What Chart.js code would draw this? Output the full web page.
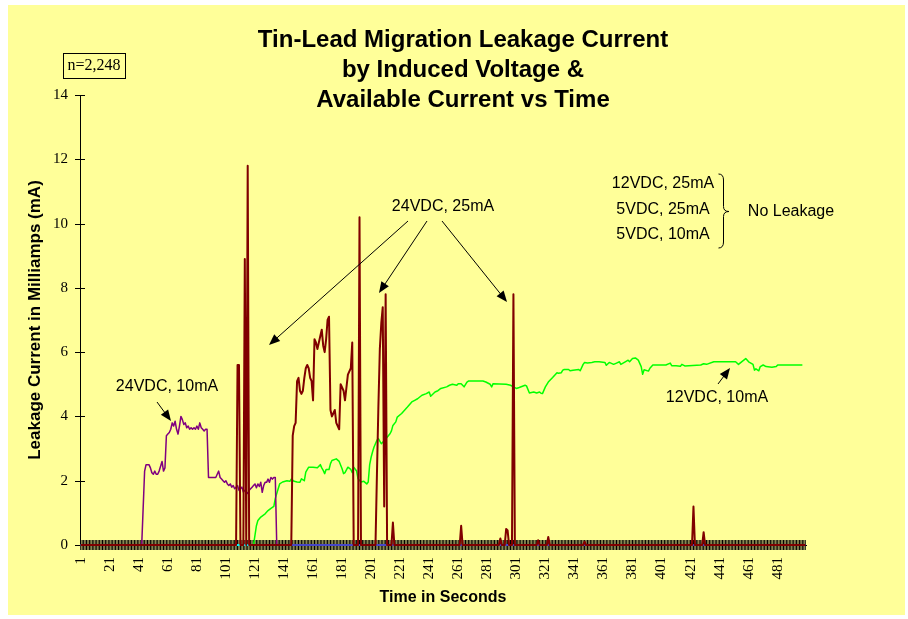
<!DOCTYPE html>
<html>
<head>
<meta charset="utf-8">
<script src="https://cdn.jsdelivr.net/npm/chart.js@4.4.1/dist/chart.umd.min.js"></script>
<style>
  body { margin: 0; background: #fff; }
  #wrap { position: relative; width: 908px; height: 619px; }
  #paper { position: absolute; left: 8px; top: 5px; width: 897px; height: 610px; background: #ffff99; }
  #chart { position: absolute; left: 0; top: 0; }
</style>
</head>
<body>
<div id="wrap">
  <div id="paper"></div>
  <canvas id="chart" width="908" height="619"></canvas>
</div>
<script>
// time (s) and leakage current (mA)
const redTimes = [1, 108, 109, 110, 111, 113, 114, 115, 116, 117, 146, 147, 148, 149, 150, 151, 152, 153, 154, 155, 156, 157, 158, 159, 160, 161, 162, 163, 164, 165, 166, 167, 168, 169, 170, 171, 172, 173, 174, 175, 176, 177, 178, 179, 180, 181, 182, 183, 184, 185, 186, 187, 188, 189, 192, 193, 194, 204, 205, 206, 207, 208, 209, 210, 211, 212, 215, 216, 217, 262, 263, 264, 289, 290, 291, 293, 294, 295, 296, 298, 299, 300, 315, 316, 317, 322, 323, 324, 347, 348, 349, 422, 423, 424, 429, 430, 431, 500];
const redValues = [0, 0, 5.6, 5.6, 0, 0, 8.9, 0, 11.8, 0, 0, 3.4, 3.7, 3.8, 5.1, 5.2, 4.8, 4.7, 4.8, 5.2, 5.5, 5.6, 5.5, 5.2, 5.1, 4.5, 6.4, 6.3, 6.1, 6.3, 6.5, 6.7, 6.2, 6.0, 6.4, 7.0, 7.1, 4.2, 4.0, 4.1, 4.2, 3.8, 3.7, 3.6, 5.0, 4.9, 4.8, 4.5, 4.9, 5.3, 5.4, 5.5, 6.3, 0, 0, 10.2, 0, 0, 2.2, 4.3, 6.1, 6.9, 7.4, 1.2, 7.8, 0, 0, 0.7, 0, 0, 0.6, 0, 0, 0.2, 0, 0, 0.5, 0.45, 0, 0, 7.8, 0, 0, 0.15, 0, 0, 0.25, 0, 0, 0.1, 0, 0, 1.2, 0, 0, 0.4, 0, 0];

const purpleTimes = [1, 43, 45, 46, 47, 48, 49, 50, 51, 52, 53, 54, 55, 56, 57, 58, 59, 60, 61, 62, 63, 64, 65, 66, 67, 68, 69, 70, 71, 72, 73, 74, 75, 76, 77, 78, 79, 80, 81, 82, 83, 84, 85, 86, 87, 88, 89, 90, 94, 95, 96, 97, 98, 99, 100, 101, 102, 103, 104, 105, 106, 107, 108, 109, 110, 111, 112, 113, 114, 115, 116, 117, 118, 119, 120, 121, 122, 123, 124, 125, 126, 127, 128, 129, 130, 131, 132, 133, 134, 135, 136];
const purpleValues = [0, 0, 2.3, 2.5, 2.5, 2.5, 2.4, 2.25, 2.2, 2.3, 2.2, 2.2, 2.3, 2.45, 2.6, 2.3, 2.4, 3.4, 3.45, 3.5, 3.6, 3.8, 3.7, 3.85, 3.6, 3.45, 3.7, 4.0, 3.9, 3.75, 3.8, 3.65, 3.7, 3.6, 3.65, 3.6, 3.65, 3.6, 3.7, 3.6, 3.8, 3.65, 3.6, 3.55, 3.6, 3.6, 2.1, 2.1, 2.1, 2.2, 2.3, 2.1, 2.05, 2.0, 1.95, 2.0, 1.9, 1.85, 1.9, 1.8, 1.85, 1.75, 1.8, 1.85, 1.7, 1.75, 1.8, 1.65, 1.7, 1.65, 1.6, 1.7, 1.75, 1.8, 1.85, 1.9, 1.78, 1.9, 1.82, 1.95, 1.64, 1.85, 1.95, 1.95, 2.05, 1.95, 2.1, 2.05, 2.1, 2.1, 0];

const greenTimes = [120, 122, 123, 125, 128, 130, 132, 134, 135, 137, 138, 140, 143, 145, 146, 148, 150, 152, 153, 155, 156, 158, 161, 164, 166, 167, 168, 169, 170, 172, 173, 174, 177, 179, 181, 182, 183, 185, 187, 188, 189, 191, 192, 194, 196, 198, 199, 200, 201, 202, 203, 205, 206, 208, 209, 211, 214, 215, 216, 218, 219, 222, 224, 226, 229, 231, 233, 236, 239, 241, 242, 245, 247, 249, 253, 255, 257, 260, 261, 263, 265, 267, 268, 278, 280, 283, 284, 285, 294, 297, 299, 301, 303, 307, 308, 310, 313, 315, 317, 318, 319, 321, 323, 326, 329, 330, 332, 333, 334, 337, 338, 340, 344, 345, 347, 348, 350, 353, 355, 358, 362, 363, 365, 368, 370, 372, 373, 376, 378, 379, 381, 383, 385, 387, 388, 389, 392, 393, 395, 404, 407, 408, 411, 414, 415, 417, 428, 430, 432, 437, 452, 454, 457, 459, 461, 464, 465, 466, 468, 469, 471, 473, 477, 480, 481, 498];
const greenValues = [0, 0.6, 0.76, 0.87, 0.97, 1.07, 1.14, 1.2, 1.45, 1.75, 1.9, 1.96, 2.0, 1.98, 2.05, 1.98, 1.96, 1.95, 2.06, 2.0, 2.27, 2.42, 2.42, 2.4, 2.5, 2.4, 2.32, 2.22, 2.35, 2.35, 2.53, 2.63, 2.68, 2.6, 2.37, 2.22, 2.25, 2.42, 2.35, 2.25, 2.42, 2.3, 2.06, 1.96, 1.98, 1.9, 1.96, 2.5, 2.73, 2.9, 3.05, 3.26, 3.31, 3.15, 3.2, 3.3, 3.46, 3.55, 3.72, 3.83, 3.98, 4.09, 4.19, 4.29, 4.45, 4.5, 4.55, 4.66, 4.71, 4.76, 4.63, 4.76, 4.8, 4.87, 4.92, 4.97, 5.0, 4.97, 5.02, 5.02, 4.92, 5.07, 5.1, 5.1, 5.07, 5.0, 4.92, 5.02, 5.0, 4.97, 4.92, 4.87, 4.9, 4.97, 4.95, 4.73, 4.76, 4.73, 4.76, 4.72, 4.71, 4.92, 5.07, 5.21, 5.36, 5.34, 5.36, 5.44, 5.46, 5.46, 5.42, 5.44, 5.46, 5.42, 5.62, 5.68, 5.66, 5.68, 5.7, 5.7, 5.68, 5.59, 5.68, 5.62, 5.66, 5.7, 5.62, 5.7, 5.75, 5.7, 5.8, 5.82, 5.75, 5.55, 5.31, 5.45, 5.41, 5.5, 5.6, 5.6, 5.66, 5.58, 5.58, 5.56, 5.62, 5.57, 5.6, 5.64, 5.62, 5.7, 5.7, 5.62, 5.73, 5.8, 5.7, 5.62, 5.44, 5.48, 5.42, 5.55, 5.6, 5.55, 5.53, 5.55, 5.6, 5.6];

// the no-leakage runs sit on zero
const blueTimes = [1, 500];
const blueValues = [0, 0];
const cyanTimes = [1, 135];
const cyanValues = [0, 0];

const xTickLabels = [1, 21, 41, 61, 81, 101, 121, 141, 161, 181, 201, 221, 241, 261, 281, 301, 321, 341, 361, 381, 401, 421, 441, 461, 481];
const titleLines = ["Tin-Lead Migration Leakage Current", "by Induced Voltage &", "Available Current vs Time"];

function toPoints(times, values) {
  return times.map((t, i) => ({ x: t, y: values[i] }));
}

const sans = '"Liberation Sans", Arial, sans-serif';
const serif = '"Liberation Serif", "Times New Roman", serif';

// excel style tick marks that cross the axis line
const crossTicks = {
  id: "crossTicks",
  beforeDatasetsDraw(chart) {
    const { ctx, chartArea, scales } = chart;
    const x = scales.x, y = scales.y;
    ctx.save();
    ctx.strokeStyle = "#000";
    ctx.lineWidth = 1;
    ctx.beginPath();
    for (let t = 1; t <= 500; t++) {
      const px = x.getPixelForValue(t);
      ctx.moveTo(px, chartArea.bottom - 5);
      ctx.lineTo(px, chartArea.bottom + 5);
    }
    y.ticks.forEach((tk) => {
      const py = Math.round(y.getPixelForValue(tk.value)) + 0.5;
      ctx.moveTo(chartArea.left - 5, py);
      ctx.lineTo(chartArea.left + 5, py);
    });
    ctx.stroke();
    ctx.restore();
  },
};

function arrow(ctx, x1, y1, x2, y2) {
  const a = Math.atan2(y2 - y1, x2 - x1);
  const len = 11, w = 4.5;
  ctx.beginPath();
  ctx.moveTo(x1, y1);
  ctx.lineTo(x2 - Math.cos(a) * len * 0.8, y2 - Math.sin(a) * len * 0.8);
  ctx.stroke();
  ctx.beginPath();
  ctx.moveTo(x2, y2);
  ctx.lineTo(x2 - len * Math.cos(a) + w * Math.sin(a), y2 - len * Math.sin(a) - w * Math.cos(a));
  ctx.lineTo(x2 - len * Math.cos(a) - w * Math.sin(a), y2 - len * Math.sin(a) + w * Math.cos(a));
  ctx.closePath();
  ctx.fill();
}

const notes = {
  id: "notes",
  afterDraw(chart) {
    const ctx = chart.ctx;
    ctx.save();
    ctx.fillStyle = "#000";
    ctx.strokeStyle = "#000";
    ctx.lineWidth = 1;
    ctx.textAlign = "center";
    ctx.textBaseline = "middle";

    ctx.font = "bold 24px " + sans;
    titleLines.forEach((s, i) => ctx.fillText(s, 463, 40 + i * 30));

    ctx.font = "16px " + serif;
    ctx.fillText("n=2,248", 94, 66);
    ctx.strokeRect(63.5, 53.5, 62, 25);

    ctx.font = "16px " + sans;
    ctx.fillText("24VDC, 25mA", 443, 207);
    arrow(ctx, 408, 221, 269, 345);
    arrow(ctx, 427, 221, 379, 293);
    arrow(ctx, 442, 221, 507, 302);

    ctx.fillText("24VDC, 10mA", 167, 387);
    arrow(ctx, 157, 402, 171, 421);

    ctx.fillText("12VDC, 25mA", 663, 184);
    ctx.fillText("5VDC, 25mA", 663, 210);
    ctx.fillText("5VDC, 10mA", 663, 235);
    ctx.fillText("No Leakage", 791, 212);
    // brace
    const bx = 718.5, sx = 723.5, tx = 729, top = 174, mid = 211.5, bot = 248;
    ctx.beginPath();
    ctx.moveTo(bx, top);
    ctx.quadraticCurveTo(sx, top, sx, top + 6);
    ctx.lineTo(sx, mid - 5);
    ctx.quadraticCurveTo(sx, mid, tx, mid);
    ctx.quadraticCurveTo(sx, mid, sx, mid + 5);
    ctx.lineTo(sx, bot - 6);
    ctx.quadraticCurveTo(sx, bot, bx, bot);
    ctx.stroke();

    ctx.fillText("12VDC, 10mA", 717, 398);
    arrow(ctx, 718, 384, 730, 368);
    ctx.restore();
  },
};

new Chart(document.getElementById("chart"), {
  type: "line",
  data: {
    datasets: [
      { label: "24VDC, 25mA", data: toPoints(redTimes, redValues), borderColor: "#800000", borderWidth: 2 },
      { label: "24VDC, 10mA", data: toPoints(purpleTimes, purpleValues), borderColor: "#800080", borderWidth: 1.5 },
      { label: "12VDC, 10mA", data: toPoints(greenTimes, greenValues), borderColor: "#00ff00", borderWidth: 1.5 },
      { label: "5VDC, 25mA", data: toPoints(cyanTimes, cyanValues), borderColor: "#00ffff", borderWidth: 2 },
      { label: "12VDC, 25mA", data: toPoints(blueTimes, blueValues), borderColor: "#4646c8", borderWidth: 2 },
    ],
  },
  options: {
    responsive: false,
    animation: false,
    devicePixelRatio: 1,
    layout: { padding: { left: 20, right: 102, top: 95, bottom: 12 } },
    datasets: {
      line: { pointRadius: 0, tension: 0, clip: false, borderJoinStyle: "round", fill: false },
    },
    plugins: {
      legend: { display: false },
      tooltip: { enabled: false },
    },
    scales: {
      x: {
        type: "linear",
        min: 0.5,
        max: 500.5,
        grid: { display: false, drawTicks: false },
        border: { display: true, color: "#000", width: 1 },
        afterBuildTicks: (s) => {
          s.ticks = xTickLabels.map((v) => ({ value: v }));
        },
        afterFit: (s) => {
          s.height = 62;
        },
        ticks: {
          autoSkip: false,
          minRotation: 90,
          maxRotation: 90,
          padding: 12,
          color: "#000",
          font: { family: serif, size: 15 },
        },
        title: {
          display: true,
          text: "Time in Seconds",
          color: "#000",
          font: { family: sans, size: 16, weight: "bold" },
          padding: { top: 0, bottom: 0 },
        },
      },
      y: {
        min: 0,
        max: 14,
        grid: { display: false, drawTicks: false },
        border: { display: true, color: "#000", width: 1 },
        afterFit: (s) => {
          s.width = 60;
        },
        ticks: {
          stepSize: 2,
          padding: 12,
          color: "#000",
          font: { family: serif, size: 15 },
        },
        title: {
          display: true,
          text: "Leakage Current in Milliamps (mA)",
          color: "#000",
          font: { family: sans, size: 17, weight: "bold" },
          padding: { top: 5, bottom: 0 },
        },
      },
    },
  },
  plugins: [crossTicks, notes],
});
</script>
</body>
</html>
